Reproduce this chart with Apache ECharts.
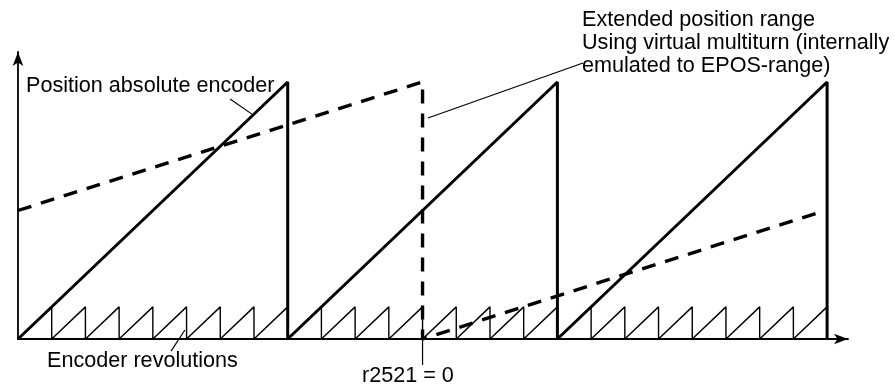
<!DOCTYPE html>
<html>
<head>
<meta charset="utf-8">
<script src="https://cdn.jsdelivr.net/npm/echarts@6/dist/echarts.min.js"></script>
<style>html,body{margin:0;padding:0;background:#fff}#c{width:895px;height:386px}</style>
</head>
<body>
<div id="c"></div>
<script>
// Encoder revolutions (small sawtooth) boundaries and tooth height
var revTicks = [0,1,2,3,4,5,6,7,8,9,10,11,12,13,14,15,16,17,18,19,20,21,22,23,24];
var revPeak = 0.125;
// Absolute encoder range boundaries (big sawtooth) and peak
var turnTicks = [0,8,16,24];
var turnPeak = 1;
// Extended position range (dashed)
var extX = [0, 12, 12, 23.7];
var extY = [0.5, 1.0, 0, 0.49];
// Annotation leader lines [x, y] pairs
var leaderPos = [[6.29, 0.934],[6.94, 0.875]];
var leaderRev = [[4.95, 0.035],[4.54, -0.047]];
var leaderR2521 = [[12, 0],[12, -0.101]];
var leaderExt = [[16.76, 1.074],[12.16, 0.86]];
// Texts
var txtPos = 'Position absolute encoder';
var txtRev = 'Encoder revolutions';
var txtR = 'r2521 = 0';
var txtExt = ['Extended position range','Using virtual multiturn (internally','emulated to EPOS-range)'];

var small = [];
for (var i = 0; i < revTicks.length - 1; i++) {
  small.push([revTicks[i], 0]);
  small.push([revTicks[i+1], revPeak]);
  small.push([revTicks[i+1], 0]);
}
var big = [];
for (var j = 0; j < turnTicks.length - 1; j++) {
  big.push([turnTicks[j], 0]);
  big.push([turnTicks[j+1], turnPeak]);
  big.push([turnTicks[j+1], 0]);
}
var ext = extX.map(function(x, k){ return [x, extY[k]]; });

var font = '"Liberation Sans", Arial, sans-serif';
function leader(d){
  return {type:'line', data:d, symbol:'none', clip:false, silent:true,
    lineStyle:{color:'#000', width:1.2}, z:3};
}
var chart = echarts.init(document.getElementById('c'));
chart.setOption({
  animation:false,
  backgroundColor:'#fff',
  grid:{left:18, right:47, top:52, bottom:47},
  xAxis:{type:'value', min:0, max:24.62,
    axisLine:{show:true, symbol:['none','arrow'], symbolSize:[8,14], lineStyle:{color:'#000', width:1.8}},
    axisTick:{show:false}, axisLabel:{show:false}, splitLine:{show:false}},
  yAxis:{type:'value', min:0, max:1.1167,
    axisLine:{show:true, onZero:false, symbol:['none','arrow'], symbolSize:[8,14], lineStyle:{color:'#000', width:1.8}},
    axisTick:{show:false}, axisLabel:{show:false}, splitLine:{show:false}},
  series:[
    {type:'line', data:small, symbol:'none', clip:false, lineStyle:{color:'#000', width:1.4}, z:2},
    {type:'line', data:big, symbol:'none', clip:false, lineStyle:{color:'#000', width:3}, z:4},
    {type:'line', data:ext, symbol:'none', clip:false, lineStyle:{color:'#000', width:3.4, type:[14,10]}, z:5},
    leader(leaderPos), leader(leaderRev), leader(leaderR2521), leader(leaderExt)
  ],
  graphic:[
    {type:'text', left:26, top:75, style:{text:txtPos, font:'21.6px '+font, fill:'#000'}},
    {type:'text', left:47, top:350, style:{text:txtRev, font:'21.6px '+font, fill:'#000'}},
    {type:'text', left:362, top:365, style:{text:txtR, font:'21.6px '+font, fill:'#000'}},
    {type:'text', left:582, top:9, style:{text:txtExt.join('\n'), font:'21.6px '+font, lineHeight:23, fill:'#000'}}
  ]
});
</script>
</body>
</html>
